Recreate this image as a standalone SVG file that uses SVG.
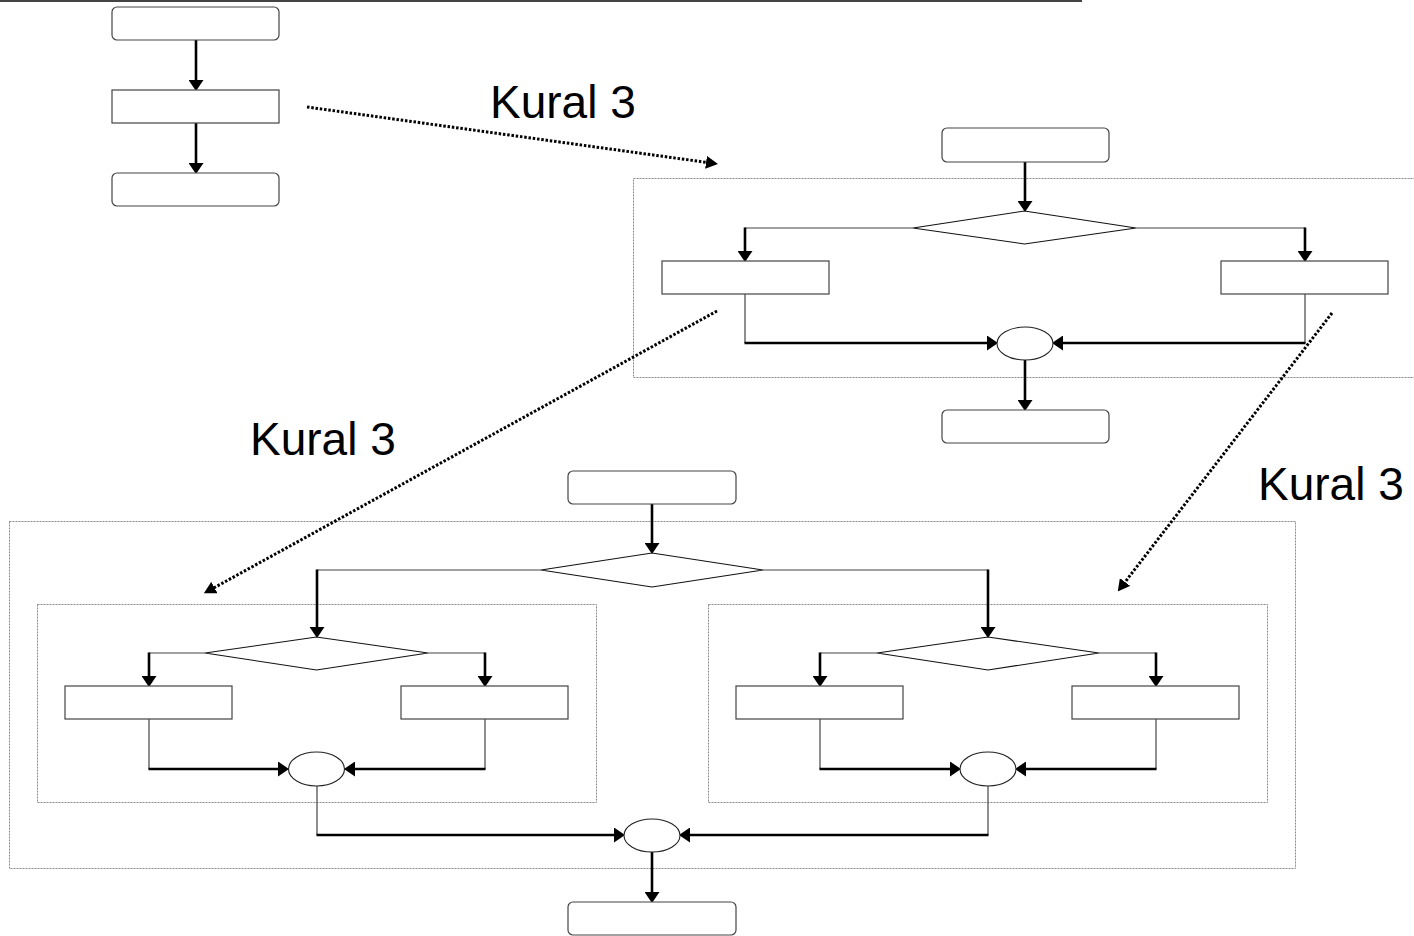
<svg xmlns="http://www.w3.org/2000/svg" width="1414" height="936" viewBox="0 0 1414 936">
  <style>
    .box { fill: #fff; stroke: #444; stroke-width: 1.2; }
    .dec { fill: #fff; stroke: #111; stroke-width: 1.1; }
    .join { fill: #fff; stroke: #222; stroke-width: 1.1; }
    .frame { fill: none; stroke: #8a8a8a; stroke-width: 1; stroke-dasharray: 2 1; }
    .thin { fill: none; stroke: #444; stroke-width: 1.2; }
    .thick { fill: none; stroke: #000; stroke-width: 2.6; marker-end: url(#head); }
    .dots { fill: none; stroke: #000; stroke-width: 3; stroke-dasharray: 2.5 1.8; marker-end: url(#dothead); }
    .lbl { font-family: "Liberation Sans", Arial, sans-serif; font-size: 46px; fill: #000; }
  </style>
  <defs>
    <marker id="head" markerUnits="userSpaceOnUse" viewBox="0 0 11 15" refX="5" refY="7.5" markerWidth="11" markerHeight="15" orient="auto">
      <path d="M0,0 L11,7.5 L0,15 z" fill="#000"/>
    </marker>
    <marker id="dothead" markerUnits="userSpaceOnUse" viewBox="0 0 12 13" refX="5" refY="6.5" markerWidth="12" markerHeight="13" orient="auto">
      <path d="M0,0 L12,6.5 L0,13 z" fill="#000"/>
    </marker>
  </defs>

  <!-- header rule -->
  <line x1="0" y1="1" x2="1082" y2="1" stroke="#444" stroke-width="2"/>

  <!-- dotted group frames -->
  <g id="frames">
    <rect class="frame" x="633.5" y="178.5" width="800" height="199"/>
    <rect class="frame" x="9.5" y="521.5" width="1286" height="347"/>
    <rect class="frame" x="37.5" y="604.5" width="559" height="198"/>
    <rect class="frame" x="708.5" y="604.5" width="559" height="198"/>
  </g>

  <!-- connectors -->
  <g id="connectors">
    <!-- sequence -->
    <line class="thick" x1="196" y1="40" x2="196" y2="85"/>
    <line class="thick" x1="196" y1="123" x2="196" y2="168"/>

    <!-- upper selection -->
    <line class="thick" x1="1025" y1="162" x2="1025" y2="206"/>
    <polyline class="thin" points="913,228 745,228"/>
    <line class="thick" x1="745" y1="227.5" x2="745" y2="256"/>
    <polyline class="thin" points="1136,228 1305,228"/>
    <line class="thick" x1="1305" y1="227.5" x2="1305" y2="256"/>
    <polyline class="thin" points="745,294 745,343"/>
    <line class="thick" x1="744.5" y1="343" x2="992" y2="343"/>
    <polyline class="thin" points="1305,294 1305,343"/>
    <line class="thick" x1="1305.5" y1="343" x2="1058" y2="343"/>
    <line class="thick" x1="1025" y1="360" x2="1025" y2="405"/>

    <!-- lower outer selection -->
    <line class="thick" x1="652" y1="504" x2="652" y2="548"/>
    <polyline class="thin" points="541,570 317,570"/>
    <line class="thick" x1="317" y1="569.5" x2="317" y2="632"/>
    <polyline class="thin" points="763,570 988,570"/>
    <line class="thick" x1="988" y1="569.5" x2="988" y2="632"/>

    <!-- lower left selection -->
    <polyline class="thin" points="205,653 149,653"/>
    <line class="thick" x1="149" y1="652.5" x2="149" y2="681"/>
    <polyline class="thin" points="428,653 485,653"/>
    <line class="thick" x1="485" y1="652.5" x2="485" y2="681"/>
    <polyline class="thin" points="149,719 149,769"/>
    <line class="thick" x1="148.5" y1="769" x2="283" y2="769"/>
    <polyline class="thin" points="485,719 485,769"/>
    <line class="thick" x1="485.5" y1="769" x2="350" y2="769"/>

    <!-- lower right selection -->
    <polyline class="thin" points="877,653 820,653"/>
    <line class="thick" x1="820" y1="652.5" x2="820" y2="681"/>
    <polyline class="thin" points="1099,653 1156,653"/>
    <line class="thick" x1="1156" y1="652.5" x2="1156" y2="681"/>
    <polyline class="thin" points="820,719 820,769"/>
    <line class="thick" x1="819.5" y1="769" x2="955" y2="769"/>
    <polyline class="thin" points="1156,719 1156,769"/>
    <line class="thick" x1="1156.5" y1="769" x2="1021" y2="769"/>

    <!-- lower merge -->
    <polyline class="thin" points="317,786 317,835"/>
    <line class="thick" x1="316.5" y1="835" x2="619" y2="835"/>
    <polyline class="thin" points="988,786 988,835"/>
    <line class="thick" x1="988.5" y1="835" x2="685" y2="835"/>
    <line class="thick" x1="652" y1="852" x2="652" y2="897"/>

    <!-- rule applications -->
    <line class="dots" x1="307" y1="107" x2="711" y2="163"/>
    <line class="dots" x1="717" y1="311" x2="210" y2="590"/>
    <line class="dots" x1="1332" y1="313" x2="1122" y2="586"/>
  </g>

  <!-- sequence -->
  <g id="seq-start"><rect class="box" x="112" y="7" width="167" height="33" rx="5"/></g>
  <g id="seq-step"><rect class="box" x="112" y="90" width="167" height="33"/></g>
  <g id="seq-end"><rect class="box" x="112" y="173" width="167" height="33" rx="5"/></g>

  <!-- upper selection -->
  <g id="up-start"><rect class="box" x="942" y="128" width="167" height="34" rx="5"/></g>
  <g id="up-cond"><polygon class="dec" points="913,228 1024.5,211 1136,228 1024.5,244"/></g>
  <g id="up-left"><rect class="box" x="662" y="261" width="167" height="33"/></g>
  <g id="up-right"><rect class="box" x="1221" y="261" width="167" height="33"/></g>
  <g id="up-join"><ellipse class="join" cx="1025" cy="343.5" rx="28" ry="16.5"/></g>
  <g id="up-end"><rect class="box" x="942" y="410" width="167" height="33" rx="5"/></g>

  <!-- lower nested selection -->
  <g id="low-start"><rect class="box" x="568" y="471" width="168" height="33" rx="5"/></g>
  <g id="low-cond"><polygon class="dec" points="541,570 652,553 763,570 652,587"/></g>

  <g id="low-l-cond"><polygon class="dec" points="205,653 316.5,637 428,653 316.5,670"/></g>
  <g id="low-l-left"><rect class="box" x="65" y="686" width="167" height="33"/></g>
  <g id="low-l-right"><rect class="box" x="401" y="686" width="167" height="33"/></g>
  <g id="low-l-join"><ellipse class="join" cx="316.5" cy="769" rx="28" ry="17"/></g>

  <g id="low-r-cond"><polygon class="dec" points="877,653 988,637 1099,653 988,670"/></g>
  <g id="low-r-left"><rect class="box" x="736" y="686" width="167" height="33"/></g>
  <g id="low-r-right"><rect class="box" x="1072" y="686" width="167" height="33"/></g>
  <g id="low-r-join"><ellipse class="join" cx="988" cy="769" rx="28" ry="17"/></g>

  <g id="low-join"><ellipse class="join" cx="652" cy="835.5" rx="28" ry="16.5"/></g>
  <g id="low-end"><rect class="box" x="568" y="902" width="168" height="33" rx="5"/></g>

  <!-- labels -->
  <g id="labels">
    <text class="lbl" x="490" y="118">Kural 3</text>
    <text class="lbl" x="250" y="455">Kural 3</text>
    <text class="lbl" x="1258" y="500">Kural 3</text>
  </g>
</svg>
